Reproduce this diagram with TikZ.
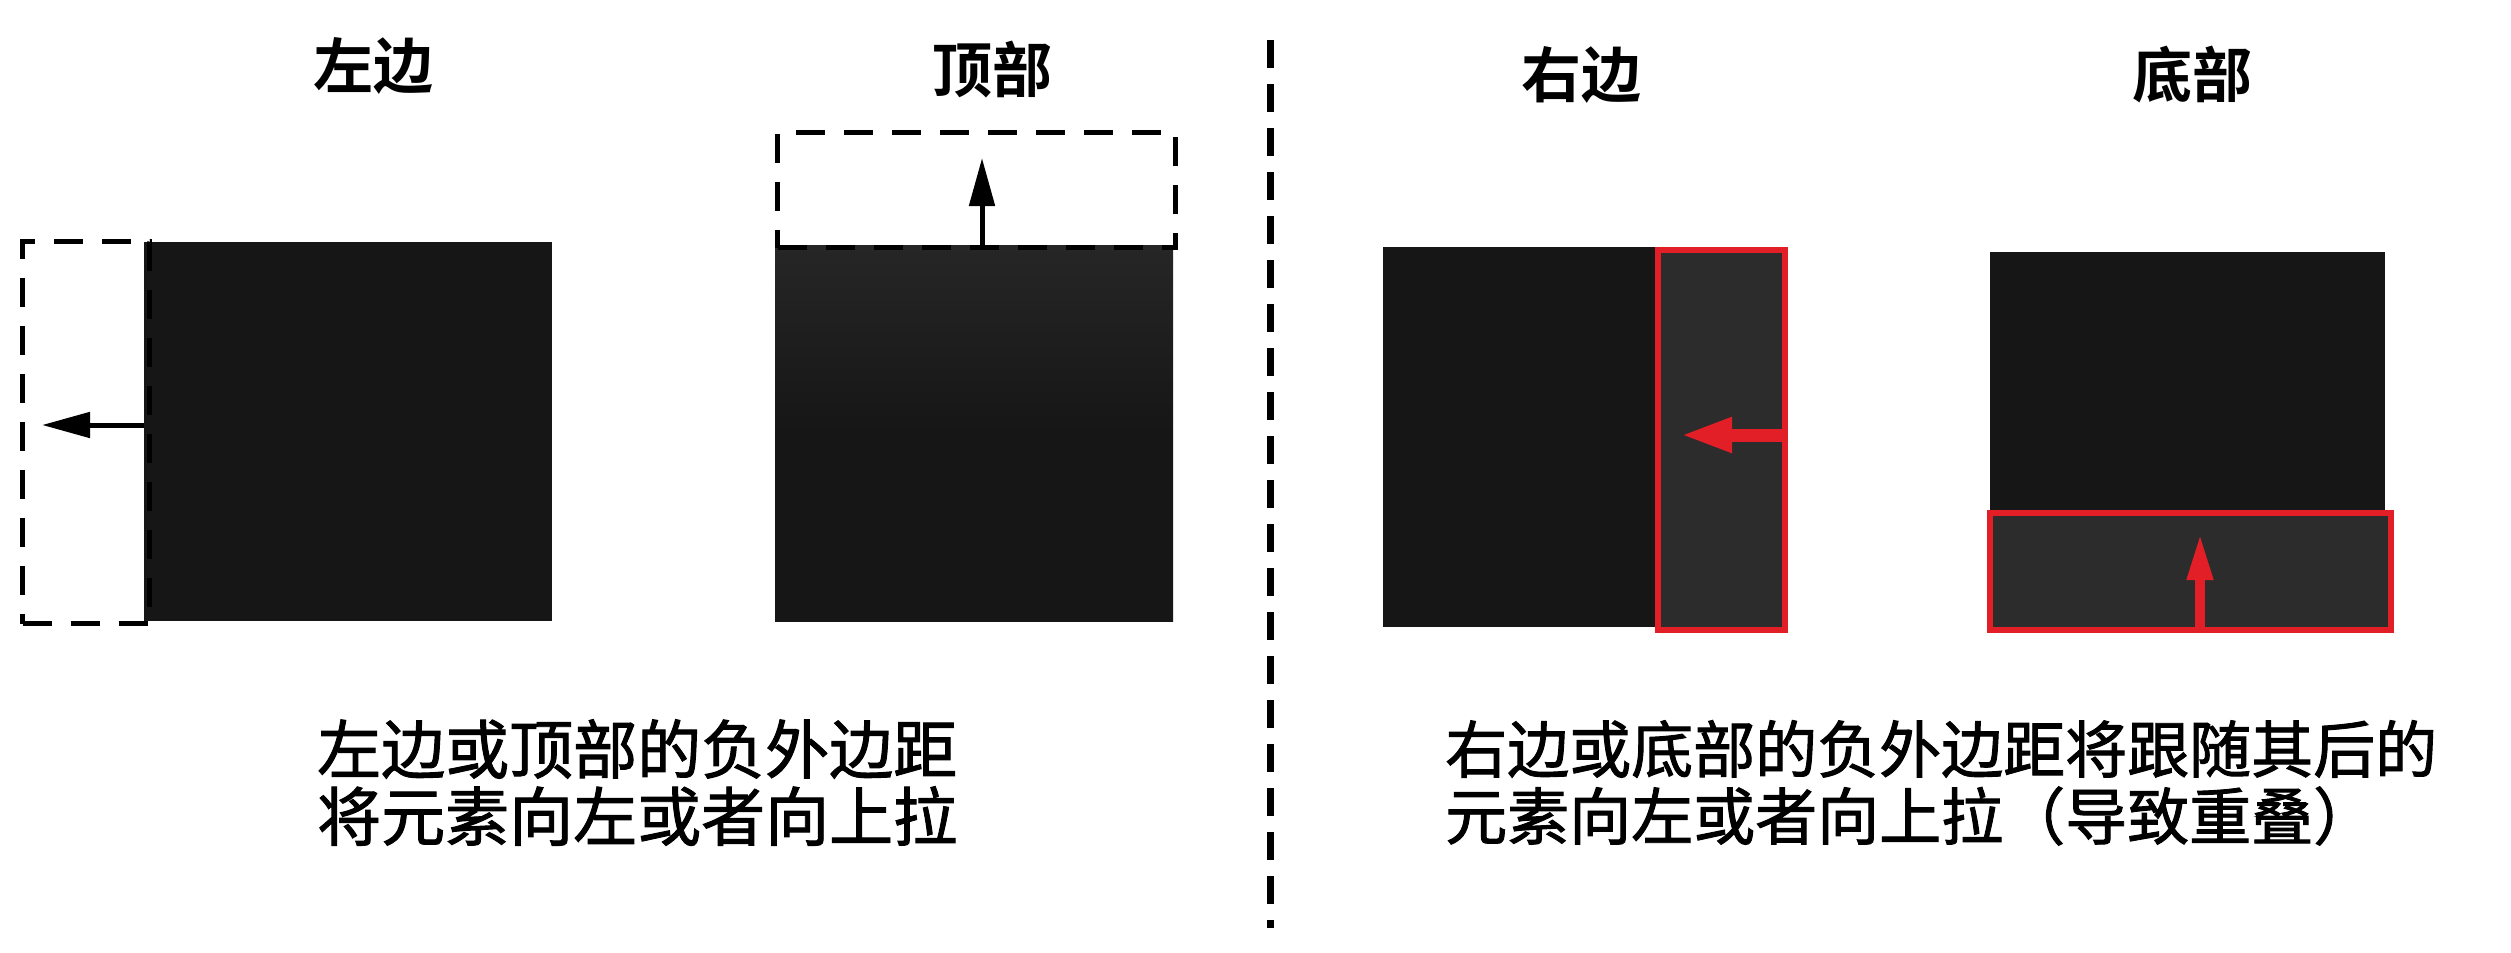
\documentclass[tikz,border=0pt]{standalone}
\usepackage{fontspec}
\newfontfamily\cjk[BoldFont={Noto Sans CJK SC Bold}]{Noto Sans CJK SC}
\newfontfamily\cjkm[FakeBold=1.5]{Noto Sans CJK SC}
\usetikzlibrary{arrows.meta}
\definecolor{boxdark}{RGB}{22,22,22}
\definecolor{boxmid}{RGB}{44,44,44}
\definecolor{boxtop}{RGB}{38,38,38}
\definecolor{mred}{RGB}{226,30,38}
\begin{document}
\begin{tikzpicture}[x=1pt,y=-1pt,
  darkbox/.style={fill=boxdark,draw=none,inner sep=0pt,anchor=north west},
  ghost/.style={draw=black,line width=5pt,dash pattern=on 29pt off 19pt,inner sep=0pt,anchor=north west},
  redbox/.style={draw=mred,line width=6pt,fill=boxmid,inner sep=0pt,anchor=north west},
  title/.style={font=\cjk\bfseries\fontsize{60}{70}\selectfont,inner sep=0pt},
  body/.style={font=\cjkm\fontsize{64}{70}\selectfont,inner sep=0pt,anchor=west},
  rbody/.style={body,font=\cjkm\fontsize{62}{70}\selectfont},
  blackarrow/.style={line width=5pt,-{Triangle[length=48pt,width=25pt]}},
  redarrow/.style={draw=mred,fill=mred}]
\useasboundingbox (0,0) rectangle (2511,953);
\fill[white] (0,0) rectangle (2511,953);
% titles
\node[title] (tl) at (373,66) {左边};
\node[title] (tt) at (992,70) {顶部};
\node[title] (tr) at (1581,75) {右边};
\node[title] (tb) at (2192,75) {底部};
% divider
\coordinate (d1) at (1270,40);
\coordinate (d2) at (1270,928);
\draw[line width=7pt,dash pattern=on 28pt off 16pt] (d1) -- (d2);
% left group
\node[darkbox,minimum width=408pt,minimum height=379pt] (bl) at (144,242) {};
\node[ghost,minimum width=127pt,minimum height=382pt] (gl) at (20,239) {};
\coordinate (al) at (42,425);
\draw[blackarrow] (bl.west |- al) -- (al);
% top group
\node[darkbox,minimum width=398pt,minimum height=376pt,top color=boxtop,bottom color=boxdark,middle color=boxdark] (bt) at (775,245) {};
\node[ghost,minimum width=398pt,minimum height=115pt] (gt) at (775,130) {};
\coordinate (at) at (982,158);
\draw[blackarrow] (bt.north -| at) -- (at);
% right group
\node[darkbox,minimum width=399pt,minimum height=380pt] (br) at (1383,247) {};
\node[redbox,minimum width=127pt,minimum height=380pt] (rr) at (1655,247) {};
\coordinate (ar) at (1680,435);
\draw[redarrow,line width=13pt,-{Triangle[length=52pt,width=32pt]}] (rr.east |- ar) -- (ar);
% bottom group
\node[darkbox,minimum width=395pt,minimum height=375pt] (bb) at (1990,252) {};
\node[redbox,minimum width=401pt,minimum height=117pt] (rb) at (1987,510) {};
\coordinate (ab) at (2200,533);
\draw[redarrow,line width=10pt,-{Triangle[length=47pt,width=24pt]}] (rb.south -| ab) -- (ab);
% captions
\node[body] (l1) at (317,749) {左边或顶部的负外边距};
\node[body] (l2) at (317,816) {将元素向左或者向上拉};
\node[rbody] (r1) at (1445,749) {右边或底部的负外边距将跟随其后的};
\node[rbody] (r2) at (1445,816) {元素向左或者向上拉（导致重叠）};
\end{tikzpicture}
\end{document}
